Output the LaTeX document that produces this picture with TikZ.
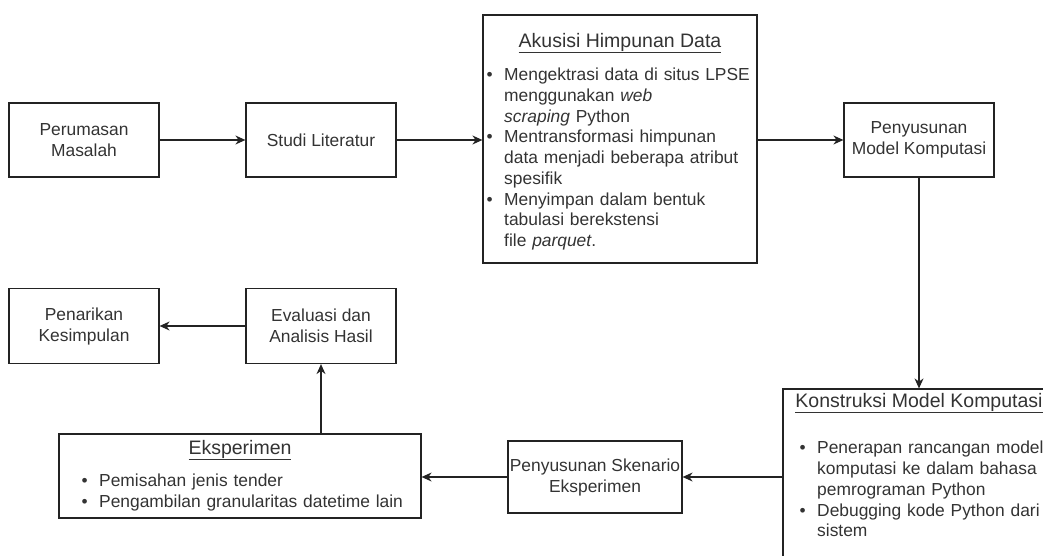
\documentclass[tikz,border=0pt]{standalone}
\usepackage{fontspec}
\setmainfont{Liberation Sans}
\usetikzlibrary{arrows.meta, positioning, calc}
\definecolor{alurgaris}{RGB}{35, 35, 35}
\definecolor{alurteks}{RGB}{51, 51, 51}
\newcommand{\butir}{\par\noindent\hangindent=18pt\hangafter=1\makebox[18pt][l]{\hspace{0.5pt}\textbullet}}
\newcommand{\baris}{\hfil\break}
\tikzset{
  langkah/.style={rectangle, draw=alurgaris, line width=1.2pt, minimum width=150pt,
                  minimum height=74pt, align=center, text=alurteks, inner sep=0pt,
                  font=\fontsize{17.4}{21}\selectfont},
  kotakdaftar/.style={rectangle, draw=alurgaris, line width=1.2pt, inner sep=0pt},
  judul/.style={inner sep=0pt, text=alurteks, font=\fontsize{19.5}{23}\selectfont},
  isidaftar/.style={anchor=north west, inner sep=0pt, text width=#1, align=left,
                    text=alurteks, font=\fontsize{17.4}{20.7}\selectfont},
  isidaftar/.default=380pt,
  arrow/.style={-{Stealth[length=10pt, width=9pt]}, line width=1.2pt, draw=alurgaris},
}
\begin{document}
\begin{tikzpicture}[x=1pt, y=-1pt]
  \useasboundingbox (0,0) rectangle (1043,556);
  \clip (0,0) rectangle (1043,556);
  % baris atas
  \node[langkah] (rumusan) at (84,140) {Perumasan\\Masalah};
  \node[langkah] (studi) at (321,140) {Studi Literatur};
  \node[kotakdaftar, minimum width=274pt, minimum height=248pt] (akusisi) at (620,139) {};
  \node[judul] (akusisiJudul) at (620,43) {\underline{Akusisi Himpunan Data}};
  \node[isidaftar] (akusisiIsi) at (486,60)
       {\butir Mengektrasi data di situs LPSE\baris menggunakan \textit{web}\baris \textit{scraping} Python
        \butir Mentransformasi himpunan\baris data menjadi beberapa atribut\baris spesifik
        \butir Menyimpan dalam bentuk\baris tabulasi berekstensi\baris file \textit{parquet}.\par};
  \node[langkah] (penyusunan) at (919,140) {Penyusunan\\Model Komputasi};
  % baris bawah
  \node[kotakdaftar, minimum width=272pt, minimum height=200pt] (konstruksi) at (919,489) {};
  \node[judul] (konstruksiJudul) at (919,403) {\underline{Konstruksi Model Komputasi}};
  \node[isidaftar] (konstruksiIsi) at (799,433)
       {\butir Penerapan rancangan model\baris komputasi ke dalam bahasa\baris pemrograman Python
        \butir Debugging kode Python dari\baris sistem\par};
  \node[langkah, minimum width=174pt, minimum height=72pt] (skenario) at (595,477)
       {Penyusunan Skenario\\Eksperimen};
  \node[kotakdaftar, minimum width=362pt, minimum height=84pt] (eksperimen) at (240,476) {};
  \node[judul] (eksperimenJudul) at (240,450) {\underline{Eksperimen}};
  \node[isidaftar] (eksperimenIsi) at (81,466)
       {\butir Pemisahan jenis tender
        \butir Pengambilan granularitas datetime lain\par};
  \node[langkah, minimum height=75pt] (evaluasi) at (321,326) {Evaluasi dan\\Analisis Hasil};
  \node[langkah, minimum height=75pt] (penarikan) at (84,326) {Penarikan\\Kesimpulan};
  % panah
  \draw[arrow] (rumusan) -- (studi);
  \draw[arrow] (studi.east) -- (studi.east -| akusisi.west);
  \draw[arrow] (akusisi.east |- penyusunan) -- (penyusunan.west);
  \draw[arrow] (penyusunan) -- (konstruksi);
  \draw[arrow] (konstruksi.west |- skenario) -- (skenario.east);
  \draw[arrow] (skenario.west) -- (skenario.west -| eksperimen.east);
  \draw[arrow] (eksperimen.north -| evaluasi) -- (evaluasi.south);
  \draw[arrow] (evaluasi) -- (penarikan);
\end{tikzpicture}
\end{document}
